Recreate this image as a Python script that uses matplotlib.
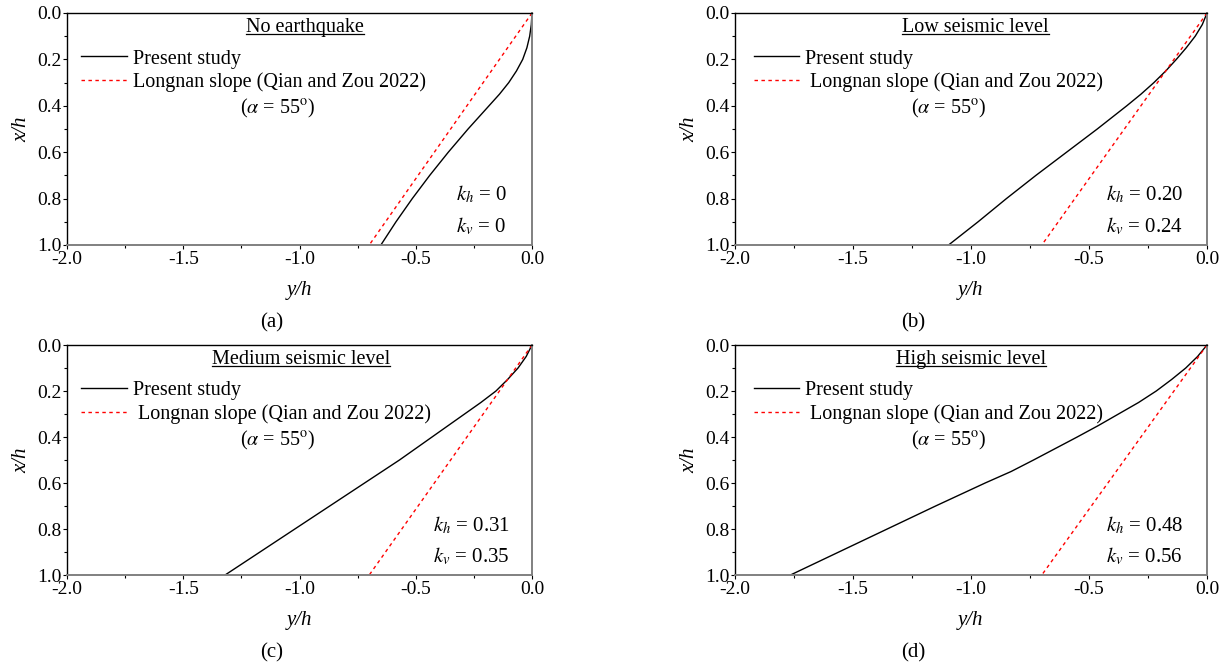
import matplotlib
matplotlib.use('Agg')
import matplotlib.pyplot as plt
import numpy as np

plt.rcParams['font.family'] = ['Liberation Serif', 'DejaVu Serif']
plt.rcParams['mathtext.fontset'] = 'stix'

# depth ratio x/h
depth = [0.0, 0.05, 0.1, 0.15, 0.2, 0.25, 0.3, 0.35, 0.4, 0.5, 0.6, 0.7, 0.8, 0.9, 1.0]
depth_d = [0.0, 0.05, 0.1, 0.15, 0.2, 0.25, 0.3, 0.35, 0.4, 0.5, 0.55, 0.6, 0.7, 0.8, 0.9, 1.0]

# present study: horizontal offset y/h read at each depth
present_a = [0.0, -0.003, -0.010, -0.022, -0.040, -0.067, -0.100, -0.140, -0.185,
             -0.275, -0.360, -0.440, -0.515, -0.585, -0.650]
present_b = [0.0, -0.020, -0.050, -0.088, -0.130, -0.175, -0.225, -0.280, -0.340,
             -0.465, -0.595, -0.725, -0.850, -0.970, -1.095]
present_c = [0.0, -0.025, -0.060, -0.105, -0.155, -0.220, -0.290, -0.360, -0.430,
             -0.570, -0.720, -0.870, -1.020, -1.170, -1.320]
present_d = [0.0, -0.040, -0.090, -0.150, -0.215, -0.290, -0.375, -0.460, -0.550,
             -0.735, -0.830, -0.940, -1.150, -1.355, -1.560, -1.765]

# Longnan slope (Qian and Zou 2022), alpha = 55 deg
longnan_depth = [0.0, 1.0]
longnan_y = [0.0, -0.700]

titles = ['No earthquake', 'Low seismic level', 'Medium seismic level', 'High seismic level']
kh_labels = ['0', '0.20', '0.31', '0.48']
kv_labels = ['0', '0.24', '0.35', '0.56']
panel_tags = ['(a)', '(b)', '(c)', '(d)']
legend_names = ['Present study', 'Longnan slope (Qian and Zou 2022)']

present_all = [present_a, present_b, present_c, present_d]
depth_all = [depth, depth, depth, depth_d]

W, H = 1227, 664
# axes boxes in pixels: left, top, right, bottom
boxes = [(67, 13, 532, 245), (735, 13, 1207, 245), (67, 345, 532, 575), (735, 345, 1207, 575)]
title_x = [0.512, 0.51, 0.504, 0.50]
legend_x = [0.031, 0.04, 0.031, 0.04]
k_x = [0.837, 0.787, 0.787, 0.785]
tag_x = [0.44, 0.377, 0.44, 0.377]

fig = plt.figure(figsize=(W / 100, H / 100), dpi=100)

for i in range(4):
    l, t, r, b = boxes[i]
    ax = fig.add_axes([l / W, 1 - b / H, (r - l) / W, (b - t) / H])

    ax.plot(present_all[i], depth_all[i], color='black', lw=1.0, label=legend_names[0])
    lname = legend_names[1] if i == 0 else ' ' + legend_names[1]
    ax.plot(longnan_y, longnan_depth, color='red', lw=1.0, ls=(0, (2.5, 2.5)), label=lname)

    ax.set_xlim(-2.0, 0.0)
    ax.set_ylim(1.0, 0.0)
    ax.set_xticks(np.arange(-2.0, 0.01, 0.5))
    ax.set_xticks(np.arange(-2.0, 0.01, 0.25), minor=True)
    ax.set_yticks(np.arange(0.0, 1.01, 0.2))
    ax.set_yticks(np.arange(0.0, 1.01, 0.1), minor=True)
    ax.set_xticklabels(['-2.0', '-1.5', '-1.0', '-0.5', '0.0'])
    ax.set_yticklabels(['0.0', '0.2', '0.4', '0.6', '0.8', '1.0'])
    ax.tick_params(which='major', direction='out', length=3, width=0.8, labelsize=14, pad=1)
    ax.tick_params(which='minor', direction='out', length=2, width=0.8)

    for side in ['top', 'left']:
        ax.spines[side].set_color('black')
        ax.spines[side].set_linewidth(1.0)
    for side in ['bottom', 'right']:
        ax.spines[side].set_color('#808080')
        ax.spines[side].set_linewidth(1.4)

    ax.set_xlabel('y/h', fontsize=15, style='italic', labelpad=10)
    ax.set_ylabel('x/h', fontsize=15, style='italic', labelpad=4)

    title = ax.text(title_x[i], 0.938, titles[i], transform=ax.transAxes,
                    ha='center', va='center', fontsize=14.5)
    # underline the title
    fig.canvas.draw()
    bb = title.get_window_extent().transformed(ax.transAxes.inverted())
    ax.plot([bb.x0, bb.x1], [bb.y0 + 0.012, bb.y0 + 0.012], color='black', lw=0.9,
            transform=ax.transAxes, clip_on=False)

    ax.legend(loc='upper left', bbox_to_anchor=(legend_x[i], 0.843), frameon=False, fontsize=14.5,
              handlelength=2.24, handletextpad=0.3, labelspacing=0.2,
              borderpad=0.0, borderaxespad=0.0)

    ax.text(0.453, 0.587, r'($\alpha$ = 55$^{\mathrm{o}}$)', transform=ax.transAxes,
            ha='center', va='center', fontsize=14.5)
    ax.text(k_x[i], 0.216, r'$k_h$ = ' + kh_labels[i], transform=ax.transAxes,
            ha='left', va='center', fontsize=15)
    ax.text(k_x[i], 0.08, r'$k_v$ = ' + kv_labels[i], transform=ax.transAxes,
            ha='left', va='center', fontsize=15)

    fig.text((l + tag_x[i] * (r - l)) / W, 1 - (b + 78) / H, panel_tags[i],
             ha='center', va='center', fontsize=15)

fig.savefig('out.png', dpi=100)
